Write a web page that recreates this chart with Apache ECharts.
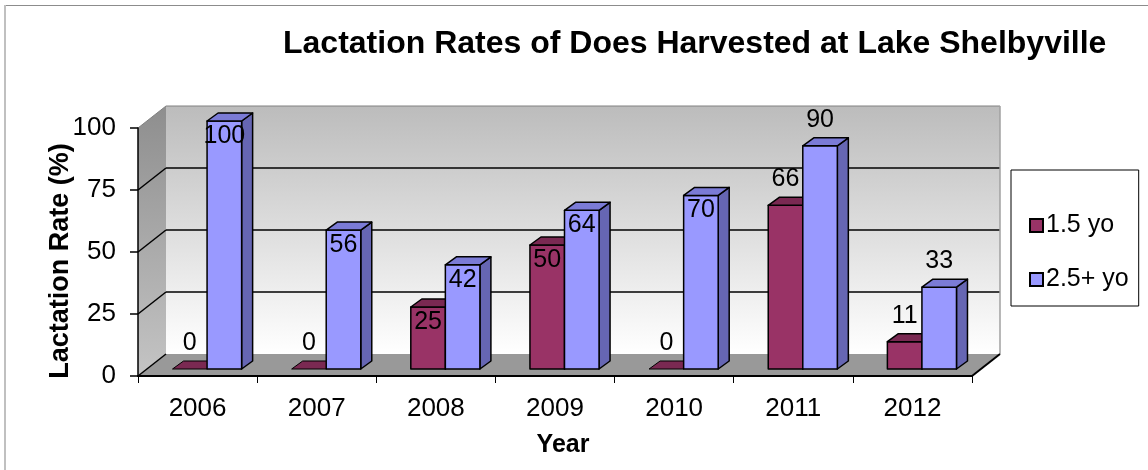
<!DOCTYPE html>
<html>
<head>
<meta charset="utf-8">
<script src="https://cdn.jsdelivr.net/npm/echarts@6/dist/echarts.min.js"></script>
<style>html,body{margin:0;padding:0;background:#fff}#chart{width:1148px;height:470px}</style>
</head>
<body>
<div id="chart"></div>
<script>
// ---- data ----
const categories = ['2006', '2007', '2008', '2009', '2010', '2011', '2012'];
const yo15 = [0, 0, 25, 50, 0, 66, 11];
const yo25 = [100, 56, 42, 64, 70, 90, 33];
const yTicks = [0, 25, 50, 75, 100];
const seriesNames = ['1.5 yo', '2.5+ yo'];
const titleText = 'Lactation Rates of Does Harvested at Lake Shelbyville';
const yName = 'Lactation Rate (%)';
const xName = 'Year';

// ---- style ----
const FONT = 'Liberation Sans, Arial, sans-serif';
const WALL = { dx: 28, dy: -22 };
const BAR_OFF = { dx: 9.5, dy: -7 };
const BAR_DEPTH = { dx: 11, dy: -8 };
const BAR_W = 0.29;
const COLORS = [
  { front: '#993366', top: '#7a2952', side: '#6b2447' },
  { front: '#9999ff', top: '#7b7bd6', side: '#6666b3' }
];
// label placed inside the top of the bar (true) or above it (false)
const labelInside = [
  [false, false, true, true, false, false, false],
  [true, true, true, true, true, false, false]
];

const chart = echarts.init(document.getElementById('chart'), null, { renderer: 'canvas' });

function frameRender(params, api) {
  const cs = params.coordSys;
  const x0 = cs.x, x1 = cs.x + cs.width;
  const yOf = v => api.coord([0, v])[1];
  const yb = yOf(yTicks[0]);
  const yt = yOf(yTicks[yTicks.length - 1]);
  const dx = WALL.dx, dy = WALL.dy;
  const ch = [];
  ch.push({
    type: 'polygon',
    shape: { points: [[x0 + dx, yt + dy], [x1 + dx, yt + dy], [x1 + dx, yb + dy], [x0 + dx, yb + dy]] },
    style: { fill: new echarts.graphic.LinearGradient(0, 0, 0, 1, [{ offset: 0, color: '#bcbcbc' }, { offset: 1, color: '#ffffff' }]) }
  });
  ch.push({
    type: 'polygon',
    shape: { points: [[x0, yt], [x0 + dx, yt + dy], [x0 + dx, yb + dy], [x0, yb]] },
    style: { fill: new echarts.graphic.LinearGradient(0, 0, 0, 1, [{ offset: 0, color: '#8e8e8e' }, { offset: 1, color: '#c4c4c4' }]) }
  });
  ch.push({
    type: 'polygon',
    shape: { points: [[x0, yb], [x1, yb], [x1 + dx, yb + dy], [x0 + dx, yb + dy]] },
    style: { fill: '#999999' }
  });
  yTicks.forEach((t, k) => {
    const y = yOf(t);
    const isTop = k === yTicks.length - 1;
    const col = isTop ? '#808080' : '#000';
    if (k > 0) {
      ch.push({ type: 'line', shape: { x1: x0 + dx, y1: y + dy, x2: x1 + dx, y2: y + dy }, style: { stroke: col, lineWidth: isTop ? 1 : 1.5 } });
    }
    ch.push({ type: 'line', shape: { x1: x0, y1: y, x2: x0 + dx, y2: y + dy }, style: { stroke: col, lineWidth: isTop ? 1 : 1.5 } });
  });
  ch.push({ type: 'line', shape: { x1: x1 + dx, y1: yt + dy, x2: x1 + dx, y2: yb + dy }, style: { stroke: '#a0a0a0', lineWidth: 1.5 } });
  ch.push({ type: 'line', shape: { x1: x1, y1: yb, x2: x1 + dx, y2: yb + dy }, style: { stroke: '#000', lineWidth: 2 } });
  return { type: 'group', children: ch };
}

function makeBarRender(s) {
  return function (params, api) {
    const i = api.value(0), v = api.value(1);
    const base = api.coord([i, 0]);
    const top = api.coord([i, v]);
    const band = api.size([1, 0])[0];
    const w = band * BAR_W;
    const xl = base[0] + BAR_OFF.dx + (s === 0 ? -w : 0);
    const xr = xl + w;
    const yb = base[1] + BAR_OFF.dy;
    const yt = top[1] + BAR_OFF.dy;
    const bdx = BAR_DEPTH.dx, bdy = BAR_DEPTH.dy;
    const c = COLORS[s];
    const stroke = { stroke: '#000', lineWidth: 1.5, lineJoin: 'round' };
    const ch = [];
    if (v > 0) {
      ch.push({ type: 'polygon', shape: { points: [[xr, yt], [xr + bdx, yt + bdy], [xr + bdx, yb + bdy], [xr, yb]] }, style: Object.assign({ fill: c.side }, stroke) });
      ch.push({ type: 'polygon', shape: { points: [[xl, yb], [xr, yb], [xr, yt], [xl, yt]] }, style: Object.assign({ fill: c.front }, stroke) });
    }
    ch.push({ type: 'polygon', shape: { points: [[xl, yt], [xr, yt], [xr + bdx, yt + bdy], [xl + bdx, yt + bdy]] }, style: Object.assign({ fill: c.top }, v > 0 ? stroke : { stroke: '#000', lineWidth: 1 }) });
    const inside = labelInside[s][i];
    ch.push({
      type: 'text',
      z2: 10,
      style: {
        text: String(v), x: (xl + xr) / 2, y: inside ? yt + 15 : yt - 26,
        align: 'center', verticalAlign: 'middle',
        fontSize: 25, fontFamily: FONT, fill: '#000'
      }
    });
    return { type: 'group', children: ch };
  };
}

const option = {
  backgroundColor: '#fff',
  animation: false,
  title: {
    text: titleText, left: 283, top: 28, padding: 0,
    textStyle: { fontSize: 32, fontWeight: 'bold', fontFamily: FONT, color: '#000' }
  },
  legend: {
    orient: 'vertical', left: 1011, top: 170,
    padding: [43, 10, 14, 18], itemGap: 29,
    itemWidth: 13, itemHeight: 13, icon: 'rect',
    borderColor: '#000', borderWidth: 1,
    itemStyle: { borderColor: '#000', borderWidth: 2 },
    textStyle: { fontSize: 25, fontFamily: FONT, color: '#000', padding: [0, 0, 0, -2] },
    data: seriesNames
  },
  grid: { left: 138, top: 128, width: 834, height: 248, containLabel: false },
  xAxis: {
    type: 'category', data: categories, z: 10,
    axisLine: { lineStyle: { color: '#000', width: 2 } },
    axisTick: { show: true, length: 7, lineStyle: { color: '#000', width: 1 } },
    axisLabel: { fontSize: 26, fontFamily: FONT, color: '#000', margin: 20 },
    splitLine: { show: false }
  },
  yAxis: {
    type: 'value', min: 0, max: 100, interval: 25, z: 10,
    axisLine: { show: true, lineStyle: { color: '#000', width: 1.5 } },
    axisTick: { show: true, length: 8, lineStyle: { color: '#000', width: 1.5 } },
    axisLabel: { fontSize: 26, fontFamily: FONT, color: '#000', margin: 22 },
    splitLine: { show: false }
  },
  graphic: [
    { type: 'line', shape: { x1: 4, y1: 5.5, x2: 1148, y2: 5.5 }, style: { stroke: '#8c8c8c', lineWidth: 1 } },
    { type: 'line', shape: { x1: 5, y1: 5, x2: 5, y2: 470 }, style: { stroke: '#c0c0c0', lineWidth: 2 } },
    {
      type: 'text', x: 61, y: 261, rotation: Math.PI / 2,
      style: { text: yName, align: 'center', verticalAlign: 'middle', fontSize: 27, fontWeight: 'bold', fontFamily: FONT, fill: '#000' }
    },
    {
      type: 'text', x: 563, y: 445,
      style: { text: xName, align: 'center', verticalAlign: 'middle', fontSize: 25, fontWeight: 'bold', fontFamily: FONT, fill: '#000' }
    }
  ],
  series: [
    {
      type: 'custom', name: '_frame', z: 1, clip: false, silent: true,
      renderItem: frameRender, data: [[0, 0]]
    },
    {
      type: 'custom', name: seriesNames[0], z: 3, clip: false,
      itemStyle: { color: COLORS[0].front },
      renderItem: makeBarRender(0),
      encode: { x: 0, y: 1 },
      data: yo15.map((v, i) => [i, v])
    },
    {
      type: 'custom', name: seriesNames[1], z: 4, clip: false,
      itemStyle: { color: COLORS[1].front },
      renderItem: makeBarRender(1),
      encode: { x: 0, y: 1 },
      data: yo25.map((v, i) => [i, v])
    }
  ]
};
chart.setOption(option);
</script>
</body>
</html>
